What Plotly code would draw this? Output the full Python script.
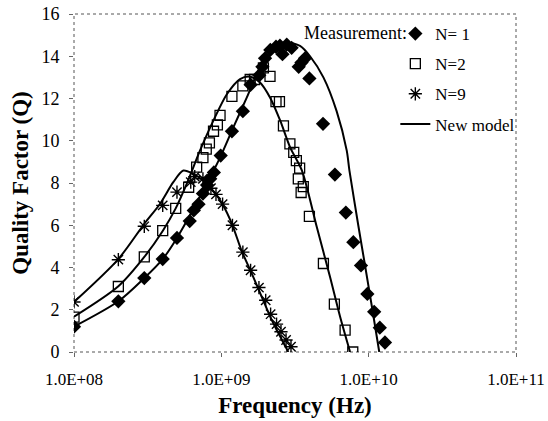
import plotly.graph_objects as go

# ---- measured data ----
f_n1 = [1e8, 2e8, 3e8, 4e8, 5e8, 6.1e8, 6.5e8, 7e8, 7.5e8, 8e8, 8.4e8, 8.9e8, 9.9e8,
        1.18e9, 1.4e9, 1.58e9, 1.81e9, 1.9e9, 1.98e9, 2.15e9, 2.35e9, 2.5e9, 2.6e9, 2.78e9,
        3.0e9, 3.35e9, 3.5e9, 3.7e9, 3.96e9, 4.9e9, 5.9e9, 7.0e9, 7.87e9, 8.87e9, 9.8e9,
        1.09e10, 1.19e10, 1.29e10]
q_n1 = [1.2, 2.4, 3.5, 4.4, 5.4, 6.2, 6.7, 7.0, 7.5, 7.9, 8.2, 8.5, 9.3,
        10.45, 11.4, 12.65, 13.1, 13.5, 13.9, 14.3, 14.45, 14.5, 14.1, 14.55,
        14.4, 13.5, 13.7, 13.9, 12.95, 10.8, 8.4, 6.6, 5.2, 4.1, 2.75,
        1.9, 1.15, 0.45]

f_n2 = [1e8, 2e8, 3e8, 4e8, 4.9e8, 6e8, 6.8e8, 7.5e8, 7.9e8, 8.3e8, 8.85e8, 9.4e8, 9.8e8,
        1.18e9, 1.4e9, 1.57e9, 1.68e9, 1.93e9, 2.14e9, 2.35e9, 2.48e9, 2.64e9, 2.92e9,
        3.1e9, 3.23e9, 3.4e9, 3.33e9, 3.6e9, 3.48e9, 3.96e9, 4.93e9, 5.85e9, 6.92e9, 7.8e9]
q_n2 = [1.65, 3.1, 4.5, 5.75, 6.8, 7.8, 8.75, 9.2, 9.6, 9.9, 10.45, 10.75, 11.2,
        12.1, 12.6, 12.9, 12.9, 13.45, 13.05, 11.85, 11.85, 10.7, 9.85,
        9.45, 9.06, 8.7, 8.2, 7.83, 7.55, 6.42, 4.19, 2.27, 1.04, 0.0]

f_n9 = [1e8, 2e8, 3e8, 4e8, 5e8, 6.2e8, 6.6e8, 7.5e8, 8.5e8, 9.2e8, 1.02e9, 1.19e9,
        1.4e9, 1.58e9, 1.8e9, 2.0e9, 2.16e9, 2.37e9, 2.54e9, 2.75e9, 2.97e9]
q_n9 = [2.37, 4.37, 5.95, 6.94, 7.57, 8.04, 8.3, 8.2, 7.75, 7.46, 7.0, 6.0,
        4.73, 3.87, 3.05, 2.45, 1.79, 1.32, 0.96, 0.57, 0.25]

# ---- new model curves ----
mf_n1 = [1e8, 2e8, 3e8, 4e8, 5e8, 6.5e8, 8.4e8, 9.8e8, 1.2e9, 1.49e9, 1.83e9, 2.26e9,
         2.78e9, 3.42e9, 4.0e9, 4.93e9, 6.06e9, 7.1e9, 7.4e9, 8.5e9, 9.5e9, 1.06e10, 1.18e10]
mq_n1 = [1.2, 2.4, 3.5, 4.4, 5.4, 6.8, 8.27, 9.2, 10.6, 12.05, 13.46, 14.25,
         14.64, 14.49, 14.0, 13.0, 11.4, 9.53, 8.6, 6.0, 4.0, 2.0, 0.0]

mf_n2 = [1e8, 2e8, 3e8, 4e8, 4.9e8, 5.82e8, 7.16e8, 8.83e8, 1.09e9, 1.34e9, 1.57e9,
         1.83e9, 2.14e9, 2.51e9, 2.93e9, 3.52e9, 4.45e9, 5.47e9, 6.4e9, 7.48e9]
mq_n2 = [1.67, 3.11, 4.5, 5.73, 6.8, 7.96, 9.53, 10.95, 12.2, 12.92, 13.03,
         12.76, 12.05, 10.95, 9.69, 8.6, 5.9, 3.55, 1.67, 0.0]

mf_n9 = [1e8, 2e8, 3e8, 3.84e8, 4.72e8, 5.52e8, 6.45e8, 7.5e8, 9.2e8, 1.03e9, 1.18e9,
         1.37e9, 1.61e9, 1.88e9, 2.2e9, 2.58e9, 2.85e9]
mq_n9 = [2.37, 4.4, 6.07, 7.02, 8.04, 8.59, 8.43, 8.12, 7.46, 6.94, 6.07,
         4.81, 3.71, 2.61, 1.51, 0.57, 0.0]

x_tickvals = [1e8, 1e9, 1e10, 1e11]
x_ticktext = ["1.0E+08", "1.0E+09", "1.0E+10", "1.0E+11"]
y_tickvals = [0, 2, 4, 6, 8, 10, 12, 14, 16]

FONT = "Liberation Serif"

fig = go.Figure()

line_style = dict(color="black", width=2, shape="spline", smoothing=0.8)
fig.add_trace(go.Scatter(x=mf_n1, y=mq_n1, mode="lines", line=line_style,
                         name="New model", legendgroup="m", legendrank=4))
fig.add_trace(go.Scatter(x=mf_n2, y=mq_n2, mode="lines", line=line_style,
                         showlegend=False, legendgroup="m"))
fig.add_trace(go.Scatter(x=mf_n9, y=mq_n9, mode="lines", line=line_style,
                         showlegend=False, legendgroup="m"))

fig.add_trace(go.Scatter(x=f_n1, y=q_n1, mode="markers", name="N= 1",
                         legendgroup="a", legendrank=1,
                         marker=dict(symbol="diamond", size=11, color="black",
                                     line=dict(width=0))))
fig.add_trace(go.Scatter(x=f_n2, y=q_n2, mode="markers", name="N=2",
                         legendgroup="b", legendrank=2,
                         marker=dict(symbol="square-open", size=10, color="black",
                                     line=dict(width=1.3, color="black"))))
fig.add_trace(go.Scatter(x=f_n9, y=q_n9, mode="markers", name="N=9",
                         legendgroup="c", legendrank=3,
                         marker=dict(symbol="asterisk-open", size=11, color="black",
                                     line=dict(width=1.4, color="black"))))

fig.update_layout(
    width=548, height=421,
    margin=dict(l=74, r=32, t=14, b=69, autoexpand=False),
    paper_bgcolor="white", plot_bgcolor="white",
    font=dict(family=FONT, size=17, color="black"),
    showlegend=True,
    legend=dict(x=0.727, y=0.994, xanchor="left", yanchor="top",
                bgcolor="rgba(0,0,0,0)", borderwidth=0,
                font=dict(family=FONT, size=17, color="black"),
                tracegroupgap=5, itemwidth=30),
    xaxis=dict(type="log", range=[8, 11], tickvals=x_tickvals, ticktext=x_ticktext,
               showgrid=False, zeroline=False, showline=False, automargin=False,
               ticks="outside", ticklen=4, tickcolor="#666",
               ticklabelstandoff=8,
               tickfont=dict(family=FONT, size=17),
               title=dict(text="Frequency (Hz)", standoff=8,
                          font=dict(family=FONT, size=23, weight="bold"))),
    yaxis=dict(range=[0, 16], tickvals=y_tickvals,
               showgrid=False, zeroline=False, showline=False, automargin=False,
               ticks="outside", ticklen=4, tickcolor="#666",
               ticklabelstandoff=6,
               tickfont=dict(family=FONT, size=18),
               title=dict(text="Quality Factor (Q)", standoff=6,
                          font=dict(family=FONT, size=23, weight="bold"))),
    shapes=[dict(type="rect", xref="paper", yref="paper", x0=0, y0=0, x1=1, y1=1,
                 line=dict(color="#555", width=1, dash="dot"), layer="below")],
    annotations=[dict(text="Measurement:", xref="paper", yref="paper",
                      x=0.758, y=0.944, xanchor="right", yanchor="middle",
                      showarrow=False, font=dict(family=FONT, size=18, color="black"))],
)

fig.write_html("out.html",
               config={"displayModeBar": False},
               post_script="document.body.style.margin='0';document.body.style.padding='0';")
